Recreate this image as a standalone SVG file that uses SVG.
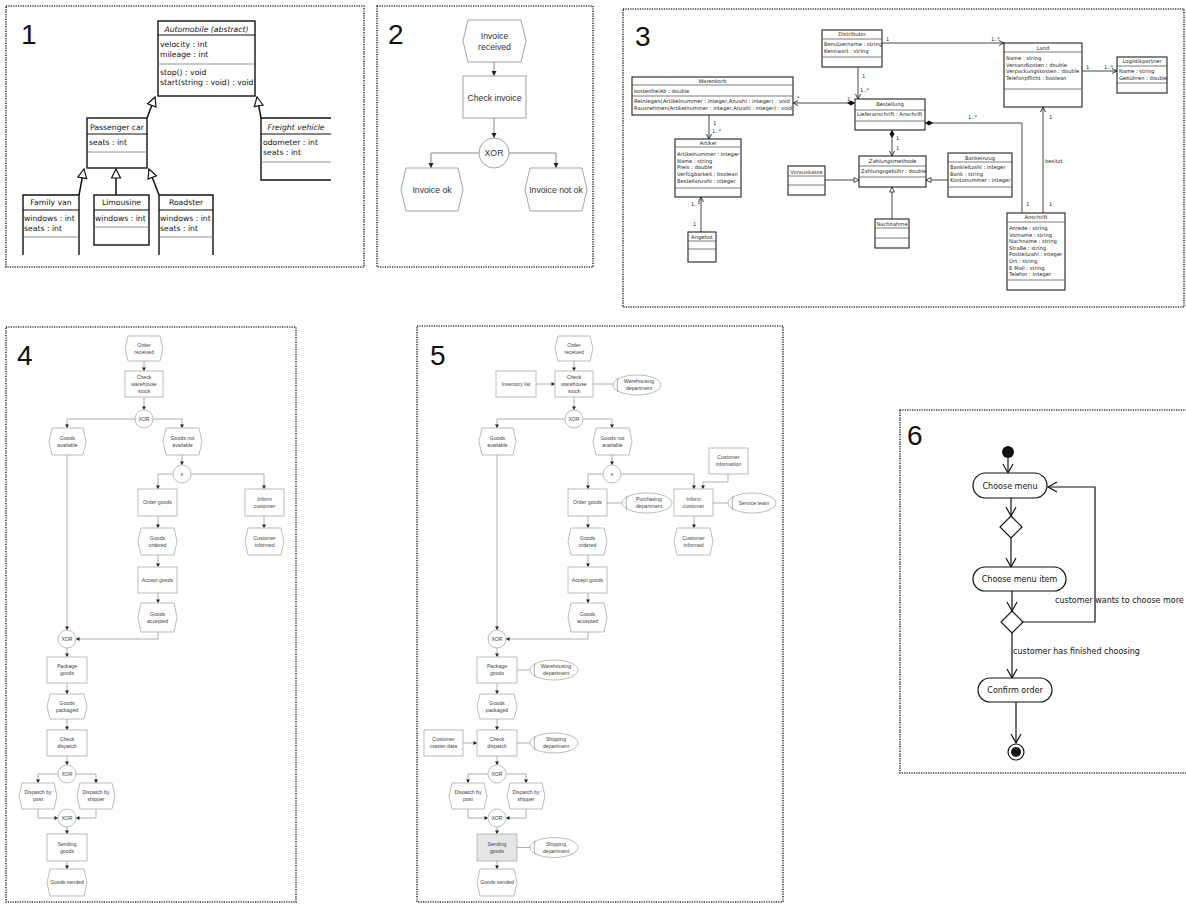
<svg xmlns="http://www.w3.org/2000/svg" width="1186" height="904" viewBox="0 0 1186 904">
<style>
.frame{fill:none;stroke:#333;stroke-width:1.6;stroke-dasharray:1.2 1.2}
.num{font-family:"Liberation Sans",Arial,sans-serif;font-size:28px;fill:#111}
.box{fill:#fff;stroke:#111;stroke-width:1.4}
.boxo{fill:none;stroke:#111;stroke-width:1.4}
.sep{stroke:#777;stroke-width:0.8}
.sepd{stroke:#111;stroke-width:1}
.t1{font-family:"DejaVu Sans",Verdana,sans-serif;font-size:7.7px;fill:#111}
.t1c{font-family:"DejaVu Sans",Verdana,sans-serif;font-size:7.7px;fill:#111;text-anchor:middle}
.gen{fill:none;stroke:#111;stroke-width:1.5}
.t3{font-family:"DejaVu Sans",Verdana,sans-serif;font-size:5.2px;fill:#222}
.t3c{font-family:"DejaVu Sans",Verdana,sans-serif;font-size:5.2px;fill:#222;text-anchor:middle}
.box3{fill:#fff;stroke:#222;stroke-width:1.1}
.sep3{stroke:#444;stroke-width:0.7}
.as{fill:none;stroke:#333;stroke-width:0.9}
.epc{fill:#fff;stroke:#999;stroke-width:0.9}
.t2{font-family:"Liberation Sans",Arial,sans-serif;font-size:8.7px;fill:#333;text-anchor:middle}
.c2{fill:none;stroke:#888;stroke-width:1}
.e4{fill:#fff;stroke:#aaa;stroke-width:0.8}
.t4{font-family:"Liberation Sans",Arial,sans-serif;font-size:5.2px;fill:#444;text-anchor:middle}
.c4{fill:none;stroke:#999;stroke-width:0.8}
.act{fill:#fff;stroke:#111;stroke-width:1.2}
.t6{font-family:"DejaVu Sans",Verdana,sans-serif;font-size:8px;fill:#111}
.t6c{font-family:"DejaVu Sans",Verdana,sans-serif;font-size:8px;fill:#111;text-anchor:middle}
.c6{fill:none;stroke:#111;stroke-width:1.2}
</style>
<defs>
<marker id="tri" markerUnits="userSpaceOnUse" markerWidth="12" markerHeight="12" refX="9" refY="4.5" orient="auto" overflow="visible"><path d="M0,0 L9,4.5 L0,9 z" fill="#fff" stroke="#111" stroke-width="1.2"/></marker>
<marker id="tris" markerUnits="userSpaceOnUse" markerWidth="8" markerHeight="8" refX="5" refY="2.5" orient="auto" overflow="visible"><path d="M0,0 L5,2.5 L0,5 z" fill="#fff" stroke="#222" stroke-width="0.8"/></marker>
<marker id="opn" markerUnits="userSpaceOnUse" markerWidth="8" markerHeight="8" refX="5" refY="2.5" orient="auto" overflow="visible"><path d="M0,0 L5,2.5 L0,5" fill="none" stroke="#222" stroke-width="0.9"/></marker>
<marker id="dia" markerUnits="userSpaceOnUse" markerWidth="10" markerHeight="8" refX="0" refY="2.5" orient="auto" overflow="visible"><path d="M0,2.5 L4,0 L8,2.5 L4,5 z" fill="#111"/></marker>
<marker id="ar2" markerUnits="userSpaceOnUse" markerWidth="8" markerHeight="8" refX="5" refY="2.5" orient="auto" overflow="visible"><path d="M0,0 L5,2.5 L0,5 z" fill="#222"/></marker>
<marker id="ar4" markerUnits="userSpaceOnUse" markerWidth="6" markerHeight="6" refX="3.5" refY="2" orient="auto" overflow="visible"><path d="M0,0 L3.5,2 L0,4 z" fill="#222"/></marker>
<marker id="ar6" markerUnits="userSpaceOnUse" markerWidth="12" markerHeight="12" refX="9" refY="5" orient="auto" overflow="visible"><path d="M0,0 L9,5 L0,10" fill="none" stroke="#111" stroke-width="1.2"/></marker>
</defs>
<rect width="1186" height="904" fill="#fff"/>

<!-- Frames -->
<g id="frames">
<rect class="frame" x="6" y="6" width="358" height="261"/>
<rect class="frame" x="377" y="6" width="216" height="261"/>
<rect class="frame" x="623" y="9" width="561" height="298"/>
<rect class="frame" x="6" y="327" width="290" height="575"/>
<rect class="frame" x="417" y="326" width="366" height="576"/>
<rect class="frame" x="900" y="410" width="300" height="363"/>
<text class="num" x="21" y="44">1</text>
<text class="num" x="388" y="44">2</text>
<text class="num" x="635" y="46">3</text>
<text class="num" x="17" y="365">4</text>
<text class="num" x="430" y="365">5</text>
<text class="num" x="907" y="445">6</text>
</g>

<!-- ===== Panel 1 ===== -->
<g id="p1-connectors">
<path class="gen" d="M147,118 L155,97" marker-end="url(#tri)"/>
<path class="gen" d="M261,118 L257,97" marker-end="url(#tri)"/>
<path class="gen" d="M79,195 L84,169" marker-end="url(#tri)"/>
<path class="gen" d="M116,195 V169" marker-end="url(#tri)"/>
<path class="gen" d="M159,195 L149,169" marker-end="url(#tri)"/>
</g>
<g id="p1-automobile">
<rect class="box" x="158" y="21" width="97" height="75"/>
<line class="sepd" x1="158" y1="35" x2="255" y2="35"/>
<line class="sep" x1="158" y1="64" x2="255" y2="64"/>
<text class="t1c" x="206.5" y="31.5" font-style="italic">Automobile (abstract)</text>
<text class="t1" x="160" y="46.5">velocity : int</text>
<text class="t1" x="160" y="56.5">mileage : int</text>
<text class="t1" x="160" y="74.5">stop() : void</text>
<text class="t1" x="160" y="84.5">start(string : void) : void</text>
</g>
<g id="p1-passenger">
<rect class="box" x="87" y="118" width="60" height="50"/>
<line class="sepd" x1="87" y1="134" x2="147" y2="134"/>
<line class="sep" x1="87" y1="152" x2="147" y2="152"/>
<text class="t1c" x="117" y="129.5">Passenger car</text>
<text class="t1" x="89" y="144.5">seats : int</text>
</g>
<g id="p1-freight">
<path class="boxo" d="M331,118 H261 V180 H331"/>
<line class="sepd" x1="261" y1="134" x2="331" y2="134"/>
<line class="sep" x1="261" y1="162" x2="331" y2="162"/>
<text class="t1c" x="296" y="129.5" font-style="italic">Freight vehicle</text>
<text class="t1" x="263" y="144.5">odometer : int</text>
<text class="t1" x="263" y="154.5">seats : int</text>
</g>
<g id="p1-familyvan">
<path class="boxo" d="M23,255 V195 H79 V255"/>
<line class="sepd" x1="23" y1="210" x2="79" y2="210"/>
<line class="sep" x1="23" y1="237" x2="79" y2="237"/>
<text class="t1c" x="51" y="204.5">Family van</text>
<text class="t1" x="24" y="220.5">windows : int</text>
<text class="t1" x="24" y="230.5">seats : int</text>
</g>
<g id="p1-limousine">
<rect class="box" x="94" y="195" width="55" height="50"/>
<line class="sepd" x1="94" y1="210" x2="149" y2="210"/>
<line class="sep" x1="94" y1="227" x2="149" y2="227"/>
<text class="t1c" x="121.5" y="204.5">Limousine</text>
<text class="t1" x="95" y="220.5">windows : int</text>
</g>
<g id="p1-roadster">
<path class="boxo" d="M159,255 V195 H213 V255"/>
<line class="sepd" x1="159" y1="210" x2="213" y2="210"/>
<line class="sep" x1="159" y1="237" x2="213" y2="237"/>
<text class="t1c" x="186" y="204.5">Roadster</text>
<text class="t1" x="160" y="220.5">windows : int</text>
<text class="t1" x="160" y="230.5">seats : int</text>
</g>

<!-- ===== Panel 2 ===== -->
<g id="p2-connectors">
<path class="c2" d="M494,62 V76" marker-end="url(#ar2)"/>
<path class="c2" d="M494,118 V138" marker-end="url(#ar2)"/>
<path class="c2" d="M479,153 H431 V168" marker-end="url(#ar2)"/>
<path class="c2" d="M509,153 H556 V168" marker-end="url(#ar2)"/>
</g>
<g id="p2-invoice-received">
<path class="epc" d="M468,20 H521 L526,41 L521,62 H468 L463,41 Z"/>
<text class="t2" x="494.5" y="39">Invoice</text>
<text class="t2" x="494.5" y="50">received</text>
</g>
<g id="p2-check-invoice">
<rect class="epc" x="463" y="76" width="63" height="42"/>
<text class="t2" x="494.5" y="101">Check invoice</text>
</g>
<g id="p2-xor">
<circle class="epc" cx="494" cy="153" r="15"/>
<text class="t2" x="494" y="156">XOR</text>
</g>
<g id="p2-invoice-ok">
<path class="epc" d="M406,168 H458 L463,189.5 L458,211 H406 L401,189.5 Z"/>
<text class="t2" x="432" y="192.5">Invoice ok</text>
</g>
<g id="p2-invoice-not-ok">
<path class="epc" d="M530,168 H582 L587,189.5 L582,211 H530 L525,189.5 Z"/>
<text class="t2" x="556" y="192.5">Invoice not ok</text>
</g>

<!-- ===== Panel 3 ===== -->
<g id="p3-connectors">
<path class="as" d="M882,43 H1004" marker-end="url(#opn)"/>
<path class="as" d="M858,67 V99" marker-end="url(#opn)"/>
<path class="as" d="M855,103 H793" marker-start="url(#dia)" marker-end="url(#opn)"/>
<path class="as" d="M892,130 V156" marker-start="url(#dia)" marker-end="url(#opn)"/>
<path class="as" d="M925,123 H1022 V213" marker-start="url(#dia)"/>
<path class="as" d="M1043,213 V107" marker-end="url(#opn)"/>
<path class="as" d="M1082,71 H1117" marker-end="url(#opn)"/>
<path class="as" d="M709,115 V139" marker-end="url(#opn)"/>
<path class="as" d="M701,232 V197" marker-end="url(#opn)"/>
<path class="as" d="M825,180 H859" marker-end="url(#tris)"/>
<path class="as" d="M948,180 H926" marker-end="url(#tris)"/>
<path class="as" d="M892,219 V187" marker-end="url(#tris)"/>
<text class="t3" x="886" y="41">1</text>
<text class="t3" x="991" y="41">1..*</text>
<text class="t3" x="862" y="78">1</text>
<text class="t3" x="860" y="92">1..*</text>
<text class="t3" x="847" y="101">1</text>
<text class="t3" x="797" y="100">*</text>
<text class="t3" x="896" y="140">1</text>
<text class="t3" x="896" y="150">1</text>
<text class="t3" x="968" y="119">1..*</text>
<text class="t3" x="1026" y="206">1</text>
<text class="t3" x="1049" y="119">1</text>
<text class="t3" x="1045" y="163">besitzt</text>
<text class="t3" x="1049" y="206">1</text>
<text class="t3" x="1086" y="69">1</text>
<text class="t3" x="1104" y="69">1..*</text>
<text class="t3" x="713" y="125">1</text>
<text class="t3" x="712" y="133">1..*</text>
<text class="t3" x="691" y="206">1..*</text>
<text class="t3" x="693" y="226">1</text>
</g>
<g id="p3-warenkorb">
<rect class="box3" x="632" y="77" width="161" height="38"/>
<line class="sep3" x1="632" y1="85" x2="793" y2="85"/>
<line class="sep3" x1="632" y1="96" x2="793" y2="96"/>
<text class="t3c" x="712.5" y="83">Warenkorb</text>
<text class="t3" x="634" y="93">kostenfreiAb : double</text>
<text class="t3" x="634" y="103" textLength="156" lengthAdjust="spacingAndGlyphs">Reinlegen(Artikelnummer : integer,Anzahl : integer) : void</text>
<text class="t3" x="634" y="110" textLength="158" lengthAdjust="spacingAndGlyphs">Rausnehmen(Artikelnummer : integer,Anzahl : integer) : void</text>
</g>
<g id="p3-artikel">
<rect class="box3" x="675" y="139" width="66" height="58"/>
<line class="sep3" x1="675" y1="147" x2="741" y2="147"/>
<line class="sep3" x1="675" y1="188" x2="741" y2="188"/>
<text class="t3c" x="708" y="145">Artikel</text>
<text class="t3" x="677" y="156">Artikelnummer : integer</text>
<text class="t3" x="677" y="162.7">Name : string</text>
<text class="t3" x="677" y="169.4">Preis : double</text>
<text class="t3" x="677" y="176.1">Verfügbarkeit : boolean</text>
<text class="t3" x="677" y="182.8">Bestellanzahl : integer</text>
</g>
<g id="p3-angebot">
<rect class="box3" x="688" y="232" width="28" height="30"/>
<line class="sep3" x1="688" y1="241" x2="716" y2="241"/>
<line class="sep3" x1="688" y1="249" x2="716" y2="249"/>
<text class="t3c" x="702" y="239">Angebot</text>
</g>
<g id="p3-distributor">
<rect class="box3" x="822" y="30" width="60" height="37"/>
<line class="sep3" x1="822" y1="39" x2="882" y2="39"/>
<line class="sep3" x1="822" y1="57" x2="882" y2="57"/>
<text class="t3c" x="852" y="36">Distributor</text>
<text class="t3" x="824" y="46">Benutzername : string</text>
<text class="t3" x="824" y="53">Kennwort : string</text>
</g>
<g id="p3-bestellung">
<rect class="box3" x="855" y="99" width="70" height="31"/>
<line class="sep3" x1="855" y1="110" x2="925" y2="110"/>
<line class="sep3" x1="855" y1="121" x2="925" y2="121"/>
<text class="t3c" x="890" y="106">Bestellung</text>
<text class="t3" x="857" y="116">Lieferanschrift : Anschrift</text>
</g>
<g id="p3-zahlungsmethode">
<rect class="box3" x="859" y="156" width="67" height="31"/>
<line class="sep3" x1="859" y1="166" x2="926" y2="166"/>
<line class="sep3" x1="859" y1="177" x2="926" y2="177"/>
<text class="t3c" x="892.5" y="163" font-style="italic">Zahlungsmethode</text>
<text class="t3" x="861" y="173">Zahlungsgebühr : double</text>
</g>
<g id="p3-vorauskasse">
<rect class="box3" x="788" y="166" width="37" height="29"/>
<line class="sep3" x1="788" y1="176" x2="825" y2="176"/>
<line class="sep3" x1="788" y1="185" x2="825" y2="185"/>
<text class="t3c" x="806.5" y="174">Vorauskasse</text>
</g>
<g id="p3-bankeinzug">
<rect class="box3" x="948" y="153" width="64" height="44"/>
<line class="sep3" x1="948" y1="162" x2="1012" y2="162"/>
<line class="sep3" x1="948" y1="187" x2="1012" y2="187"/>
<text class="t3c" x="980" y="160">Bankeinzug</text>
<text class="t3" x="950" y="169">Bankleitzahl : integer</text>
<text class="t3" x="950" y="175.5">Bank : string</text>
<text class="t3" x="950" y="182">Kontonummer : integer</text>
</g>
<g id="p3-nachnahme">
<rect class="box3" x="875" y="219" width="34" height="29"/>
<line class="sep3" x1="875" y1="228" x2="909" y2="228"/>
<line class="sep3" x1="875" y1="238" x2="909" y2="238"/>
<text class="t3c" x="892" y="226">Nachnahme</text>
</g>
<g id="p3-land">
<rect class="box3" x="1004" y="43" width="78" height="64"/>
<line class="sep3" x1="1004" y1="52" x2="1082" y2="52"/>
<line class="sep3" x1="1004" y1="89" x2="1082" y2="89"/>
<text class="t3c" x="1043" y="50">Land</text>
<text class="t3" x="1006" y="60">Name : string</text>
<text class="t3" x="1006" y="66.5">Versandkosten : double</text>
<text class="t3" x="1006" y="73">Verpackungskosten : double</text>
<text class="t3" x="1006" y="79.5">Telefonpflicht : boolean</text>
</g>
<g id="p3-logistikpartner">
<rect class="box3" x="1117" y="57" width="50" height="36"/>
<line class="sep3" x1="1117" y1="66" x2="1167" y2="66"/>
<line class="sep3" x1="1117" y1="83" x2="1167" y2="83"/>
<text class="t3c" x="1142" y="63">Logistikpartner</text>
<text class="t3" x="1119" y="73">Name : string</text>
<text class="t3" x="1119" y="79.5">Gebühren : double</text>
</g>
<g id="p3-anschrift">
<rect class="box3" x="1007" y="213" width="58" height="77"/>
<line class="sep3" x1="1007" y1="222" x2="1065" y2="222"/>
<line class="sep3" x1="1007" y1="280" x2="1065" y2="280"/>
<text class="t3c" x="1036" y="219">Anschrift</text>
<text class="t3" x="1009" y="230">Anrede : string</text>
<text class="t3" x="1009" y="236.6">Vorname : string</text>
<text class="t3" x="1009" y="243.2">Nachname : string</text>
<text class="t3" x="1009" y="249.8">Straße : string</text>
<text class="t3" x="1009" y="256.4">Postleitzahl : integer</text>
<text class="t3" x="1009" y="263">Ort : string</text>
<text class="t3" x="1009" y="269.6">E-Mail : string</text>
<text class="t3" x="1009" y="276.2">Telefon : integer</text>
</g>

<!-- ===== Panel 4 ===== -->
<g id="p4-connectors">
<path class="c4" d="M144,361 V371" marker-end="url(#ar4)"/>
<path class="c4" d="M144,397 V410" marker-end="url(#ar4)"/>
<path class="c4" d="M135,419 H67 V428" marker-end="url(#ar4)"/>
<path class="c4" d="M153,419 H182 V428" marker-end="url(#ar4)"/>
<path class="c4" d="M182,455 V465" marker-end="url(#ar4)"/>
<path class="c4" d="M173,474 H158 V489" marker-end="url(#ar4)"/>
<path class="c4" d="M191,474 H264 V489" marker-end="url(#ar4)"/>
<path class="c4" d="M158,516 V528" marker-end="url(#ar4)"/>
<path class="c4" d="M264,516 V528" marker-end="url(#ar4)"/>
<path class="c4" d="M158,555 V567" marker-end="url(#ar4)"/>
<path class="c4" d="M158,593 V603" marker-end="url(#ar4)"/>
<path class="c4" d="M158,632 V639 H76" marker-end="url(#ar4)"/>
<path class="c4" d="M67,455 V630" marker-end="url(#ar4)"/>
<path class="c4" d="M67,648 V657" marker-end="url(#ar4)"/>
<path class="c4" d="M67,683 V694" marker-end="url(#ar4)"/>
<path class="c4" d="M67,719 V730" marker-end="url(#ar4)"/>
<path class="c4" d="M67,756 V765" marker-end="url(#ar4)"/>
<path class="c4" d="M58,774 H38 V783" marker-end="url(#ar4)"/>
<path class="c4" d="M76,774 H96 V783" marker-end="url(#ar4)"/>
<path class="c4" d="M38,809 V818 H58" marker-end="url(#ar4)"/>
<path class="c4" d="M96,809 V818 H76" marker-end="url(#ar4)"/>
<path class="c4" d="M67,827 V834" marker-end="url(#ar4)"/>
<path class="c4" d="M67,861 V869" marker-end="url(#ar4)"/>
</g>
<g id="p4-order-received"><path class="e4" d="M128,336 H160 L163,348.5 L160,361 H128 L125,348.5 Z"/><text class="t4" x="144" y="346.9">Order</text><text class="t4" x="144" y="353.9">received</text></g>
<g id="p4-check-stock"><rect class="e4" x="125" y="371" width="38" height="26"/><text class="t4" x="144" y="378.9">Check</text><text class="t4" x="144" y="385.9">warehouse</text><text class="t4" x="144" y="392.9">stock</text></g>
<g id="p4-xor1"><circle class="e4" cx="144" cy="419" r="9"/><text class="t4" x="144" y="420.9">XOR</text></g>
<g id="p4-goods-available"><path class="e4" d="M52,428 H83 L86,441.5 L83,455 H52 L49,441.5 Z"/><text class="t4" x="67.5" y="439.9">Goods</text><text class="t4" x="67.5" y="446.9">available</text></g>
<g id="p4-goods-not-available"><path class="e4" d="M166,428 H199 L202,441.5 L199,455 H166 L163,441.5 Z"/><text class="t4" x="182.5" y="439.9">Goods not</text><text class="t4" x="182.5" y="446.9">available</text></g>
<g id="p4-and"><circle class="e4" cx="182" cy="474" r="9"/><text class="t4" x="182" y="476">∧</text></g>
<g id="p4-order-goods"><rect class="e4" x="138" y="489" width="39" height="27"/><text class="t4" x="157.5" y="504.4">Order goods</text></g>
<g id="p4-inform-customer"><rect class="e4" x="245" y="489" width="39" height="27"/><text class="t4" x="264.5" y="500.9">Inform</text><text class="t4" x="264.5" y="507.9">customer</text></g>
<g id="p4-goods-ordered"><path class="e4" d="M141,528 H174 L177,541.5 L174,555 H141 L138,541.5 Z"/><text class="t4" x="157.5" y="539.9">Goods</text><text class="t4" x="157.5" y="546.9">ordered</text></g>
<g id="p4-customer-informed"><path class="e4" d="M248,528 H281 L284,541.5 L281,555 H248 L245,541.5 Z"/><text class="t4" x="264.5" y="539.9">Customer</text><text class="t4" x="264.5" y="546.9">informed</text></g>
<g id="p4-accept-goods"><rect class="e4" x="138" y="567" width="39" height="26"/><text class="t4" x="157.5" y="581.9">Accept goods</text></g>
<g id="p4-goods-accepted"><path class="e4" d="M141,603 H174 L177,617.5 L174,632 H141 L138,617.5 Z"/><text class="t4" x="157.5" y="615.9">Goods</text><text class="t4" x="157.5" y="622.9">accepted</text></g>
<g id="p4-xor2"><circle class="e4" cx="67" cy="639" r="9"/><text class="t4" x="67" y="640.9">XOR</text></g>
<g id="p4-package-goods"><rect class="e4" x="47" y="657" width="40" height="26"/><text class="t4" x="67" y="668.4">Package</text><text class="t4" x="67" y="675.4">goods</text></g>
<g id="p4-goods-packaged"><path class="e4" d="M50,694 H84 L87,706.5 L84,719 H50 L47,706.5 Z"/><text class="t4" x="67" y="704.9">Goods</text><text class="t4" x="67" y="711.9">packaged</text></g>
<g id="p4-check-dispatch"><rect class="e4" x="47" y="730" width="40" height="26"/><text class="t4" x="67" y="741.4">Check</text><text class="t4" x="67" y="748.4">dispatch</text></g>
<g id="p4-xor3"><circle class="e4" cx="67" cy="774" r="9"/><text class="t4" x="67" y="775.9">XOR</text></g>
<g id="p4-dispatch-post"><path class="e4" d="M22,783 H54 L57,796 L54,809 H22 L19,796 Z"/><text class="t4" x="38" y="794.4">Dispatch by</text><text class="t4" x="38" y="801.4">post</text></g>
<g id="p4-dispatch-shipper"><path class="e4" d="M80,783 H112 L115,796 L112,809 H80 L77,796 Z"/><text class="t4" x="96" y="794.4">Dispatch by</text><text class="t4" x="96" y="801.4">shipper</text></g>
<g id="p4-xor4"><circle class="e4" cx="67" cy="818" r="9"/><text class="t4" x="67" y="819.9">XOR</text></g>
<g id="p4-sending-goods"><rect class="e4" x="47" y="834" width="40" height="27"/><text class="t4" x="67" y="845.9">Sending</text><text class="t4" x="67" y="852.9">goods</text></g>
<g id="p4-goods-sended"><path class="e4" d="M50,869 H84 L87,882.5 L84,896 H50 L47,882.5 Z"/><text class="t4" x="67" y="884.4">Goods sended</text></g>

<!-- ===== Panel 5 ===== -->
<g id="p5-connectors">
<path class="c4" d="M574,361 V371" marker-end="url(#ar4)"/>
<path class="c4" d="M574,397 V410" marker-end="url(#ar4)"/>
<path class="c4" d="M565,419 H497 V428" marker-end="url(#ar4)"/>
<path class="c4" d="M583,419 H612 V428" marker-end="url(#ar4)"/>
<path class="c4" d="M612,455 V465" marker-end="url(#ar4)"/>
<path class="c4" d="M603,474 H588 V489" marker-end="url(#ar4)"/>
<path class="c4" d="M621,474 H694 V489" marker-end="url(#ar4)"/>
<path class="c4" d="M728,474 V482 H703 V489" marker-end="url(#ar4)"/>
<path class="c4" d="M588,516 V528" marker-end="url(#ar4)"/>
<path class="c4" d="M694,516 V528" marker-end="url(#ar4)"/>
<path class="c4" d="M588,555 V567" marker-end="url(#ar4)"/>
<path class="c4" d="M588,593 V603" marker-end="url(#ar4)"/>
<path class="c4" d="M588,632 V639 H506" marker-end="url(#ar4)"/>
<path class="c4" d="M497,455 V630" marker-end="url(#ar4)"/>
<path class="c4" d="M497,648 V657" marker-end="url(#ar4)"/>
<path class="c4" d="M497,683 V694" marker-end="url(#ar4)"/>
<path class="c4" d="M497,719 V730" marker-end="url(#ar4)"/>
<path class="c4" d="M497,756 V765" marker-end="url(#ar4)"/>
<path class="c4" d="M488,774 H468 V783" marker-end="url(#ar4)"/>
<path class="c4" d="M506,774 H526 V783" marker-end="url(#ar4)"/>
<path class="c4" d="M468,809 V818 H488" marker-end="url(#ar4)"/>
<path class="c4" d="M526,809 V818 H506" marker-end="url(#ar4)"/>
<path class="c4" d="M497,827 V834" marker-end="url(#ar4)"/>
<path class="c4" d="M497,861 V869" marker-end="url(#ar4)"/>
<path class="c4" d="M536,384 H555" marker-end="url(#ar4)"/>
<path class="c4" d="M463,743 H477" marker-end="url(#ar4)"/>
<path class="c4" d="M593,384 H613"/>
<path class="c4" d="M607,503 H622"/>
<path class="c4" d="M713,503 H728"/>
<path class="c4" d="M517,670 H530"/>
<path class="c4" d="M517,743 H530"/>
<path class="c4" d="M517,847.5 H530"/>
</g>
<g id="p5-order-received"><path class="e4" d="M558,336 H590 L593,348.5 L590,361 H558 L555,348.5 Z"/><text class="t4" x="574" y="346.9">Order</text><text class="t4" x="574" y="353.9">received</text></g>
<g id="p5-inventory-list"><rect class="e4" x="496" y="371" width="40" height="26"/><text class="t4" x="516" y="385.9">Inventory list</text></g>
<g id="p5-check-stock"><rect class="e4" x="555" y="371" width="38" height="26"/><text class="t4" x="574" y="378.9">Check</text><text class="t4" x="574" y="385.9">warehouse</text><text class="t4" x="574" y="392.9">stock</text></g>
<g id="p5-warehousing1"><ellipse class="e4" cx="637" cy="385" rx="24" ry="10"/><path class="c4" d="M618,378 Q616,385 618,392"/><text class="t4" x="639" y="383.4">Warehousing</text><text class="t4" x="639" y="390.4">department</text></g>
<g id="p5-xor1"><circle class="e4" cx="574" cy="419" r="9"/><text class="t4" x="574" y="420.9">XOR</text></g>
<g id="p5-goods-available"><path class="e4" d="M482,428 H513 L516,441.5 L513,455 H482 L479,441.5 Z"/><text class="t4" x="497.5" y="439.9">Goods</text><text class="t4" x="497.5" y="446.9">available</text></g>
<g id="p5-goods-not-available"><path class="e4" d="M596,428 H629 L632,441.5 L629,455 H596 L593,441.5 Z"/><text class="t4" x="612.5" y="439.9">Goods not</text><text class="t4" x="612.5" y="446.9">available</text></g>
<g id="p5-and"><circle class="e4" cx="612" cy="474" r="9"/><text class="t4" x="612" y="476">∧</text></g>
<g id="p5-customer-information"><rect class="e4" x="709" y="448" width="39" height="26"/><text class="t4" x="728.5" y="459.4">Customer</text><text class="t4" x="728.5" y="466.4">information</text></g>
<g id="p5-order-goods"><rect class="e4" x="568" y="489" width="39" height="27"/><text class="t4" x="587.5" y="504.4">Order goods</text></g>
<g id="p5-purchasing"><ellipse class="e4" cx="647" cy="503" rx="25" ry="10"/><path class="c4" d="M627,496 Q625,503 627,510"/><text class="t4" x="649" y="501.4">Purchasing</text><text class="t4" x="649" y="508.4">department</text></g>
<g id="p5-inform-customer"><rect class="e4" x="674" y="489" width="39" height="27"/><text class="t4" x="693.5" y="500.9">Inform</text><text class="t4" x="693.5" y="507.9">customer</text></g>
<g id="p5-service-team"><ellipse class="e4" cx="752" cy="503" rx="24" ry="10"/><path class="c4" d="M733,496 Q731,503 733,510"/><text class="t4" x="754" y="504.9">Service team</text></g>
<g id="p5-goods-ordered"><path class="e4" d="M571,528 H604 L607,541.5 L604,555 H571 L568,541.5 Z"/><text class="t4" x="587.5" y="539.9">Goods</text><text class="t4" x="587.5" y="546.9">ordered</text></g>
<g id="p5-customer-informed"><path class="e4" d="M677,528 H710 L713,541.5 L710,555 H677 L674,541.5 Z"/><text class="t4" x="693.5" y="539.9">Customer</text><text class="t4" x="693.5" y="546.9">informed</text></g>
<g id="p5-accept-goods"><rect class="e4" x="568" y="567" width="39" height="26"/><text class="t4" x="587.5" y="581.9">Accept goods</text></g>
<g id="p5-goods-accepted"><path class="e4" d="M571,603 H604 L607,617.5 L604,632 H571 L568,617.5 Z"/><text class="t4" x="587.5" y="615.9">Goods</text><text class="t4" x="587.5" y="622.9">accepted</text></g>
<g id="p5-xor2"><circle class="e4" cx="497" cy="639" r="9"/><text class="t4" x="497" y="640.9">XOR</text></g>
<g id="p5-package-goods"><rect class="e4" x="477" y="657" width="40" height="26"/><text class="t4" x="497" y="668.4">Package</text><text class="t4" x="497" y="675.4">goods</text></g>
<g id="p5-warehousing2"><ellipse class="e4" cx="554" cy="670" rx="24" ry="10"/><path class="c4" d="M535,663 Q533,670 535,677"/><text class="t4" x="556" y="668.4">Warehousing</text><text class="t4" x="556" y="675.4">department</text></g>
<g id="p5-goods-packaged"><path class="e4" d="M480,694 H514 L517,706.5 L514,719 H480 L477,706.5 Z"/><text class="t4" x="497" y="704.9">Goods</text><text class="t4" x="497" y="711.9">packaged</text></g>
<g id="p5-customer-master"><rect class="e4" x="424" y="730" width="39" height="26"/><text class="t4" x="443.5" y="741.4">Customer</text><text class="t4" x="443.5" y="748.4">master data</text></g>
<g id="p5-check-dispatch"><rect class="e4" x="477" y="730" width="40" height="26"/><text class="t4" x="497" y="741.4">Check</text><text class="t4" x="497" y="748.4">dispatch</text></g>
<g id="p5-shipping1"><ellipse class="e4" cx="554" cy="743" rx="24" ry="10"/><path class="c4" d="M535,736 Q533,743 535,750"/><text class="t4" x="556" y="741.4">Shipping</text><text class="t4" x="556" y="748.4">department</text></g>
<g id="p5-xor3"><circle class="e4" cx="497" cy="774" r="9"/><text class="t4" x="497" y="775.9">XOR</text></g>
<g id="p5-dispatch-post"><path class="e4" d="M452,783 H484 L487,796 L484,809 H452 L449,796 Z"/><text class="t4" x="468" y="794.4">Dispatch by</text><text class="t4" x="468" y="801.4">post</text></g>
<g id="p5-dispatch-shipper"><path class="e4" d="M510,783 H542 L545,796 L542,809 H510 L507,796 Z"/><text class="t4" x="526" y="794.4">Dispatch by</text><text class="t4" x="526" y="801.4">shipper</text></g>
<g id="p5-xor4"><circle class="e4" cx="497" cy="818" r="9"/><text class="t4" x="497" y="819.9">XOR</text></g>
<g id="p5-sending-goods"><rect class="e4" x="477" y="834" width="40" height="27" style="fill:#e6e6e6"/><text class="t4" x="497" y="845.9">Sending</text><text class="t4" x="497" y="852.9">goods</text></g>
<g id="p5-shipping2"><ellipse class="e4" cx="554" cy="847.5" rx="24" ry="10"/><path class="c4" d="M535,840.5 Q533,847.5 535,854.5"/><text class="t4" x="556" y="845.9">Shipping</text><text class="t4" x="556" y="852.9">department</text></g>
<g id="p5-goods-sended"><path class="e4" d="M480,869 H514 L517,882.5 L514,896 H480 L477,882.5 Z"/><text class="t4" x="497" y="884.4">Goods sended</text></g>

<!-- ===== Panel 6 ===== -->
<g id="p6-connectors">
<path class="c6" d="M1008,458 V473" marker-end="url(#ar6)"/>
<path class="c6" d="M1011,498 V516" marker-end="url(#ar6)"/>
<path class="c6" d="M1011,538 V567" marker-end="url(#ar6)"/>
<path class="c6" d="M1012,591 V611" marker-end="url(#ar6)"/>
<path class="c6" d="M1023,622 H1095 V487 H1048" marker-end="url(#ar6)"/>
<path class="c6" d="M1012,633 V678" marker-end="url(#ar6)"/>
<path class="c6" d="M1016,702 V743" marker-end="url(#ar6)"/>
<text class="t6" x="1055" y="603">customer wants to choose more</text>
<text class="t6" x="1013" y="654">customer has finished choosing</text>
</g>
<g id="p6-start"><circle cx="1008" cy="452" r="6" fill="#111"/></g>
<g id="p6-choose-menu"><rect class="act" x="973" y="473" width="74" height="25" rx="12.5"/><text class="t6c" x="1010" y="489">Choose menu</text></g>
<g id="p6-decision1"><path class="act" d="M1011,516 L1022,527 L1011,538 L1000,527 Z"/></g>
<g id="p6-choose-item"><rect class="act" x="973" y="567" width="93" height="24" rx="12"/><text class="t6c" x="1019.5" y="582">Choose menu item</text></g>
<g id="p6-decision2"><path class="act" d="M1012,611 L1023,622 L1012,633 L1001,622 Z"/></g>
<g id="p6-confirm"><rect class="act" x="978" y="678" width="74" height="24" rx="12"/><text class="t6c" x="1015" y="693">Confirm order</text></g>
<g id="p6-end"><circle cx="1016" cy="752" r="8" fill="#fff" stroke="#111" stroke-width="1.2"/><circle cx="1016" cy="752" r="5" fill="#111"/></g>
</svg>
